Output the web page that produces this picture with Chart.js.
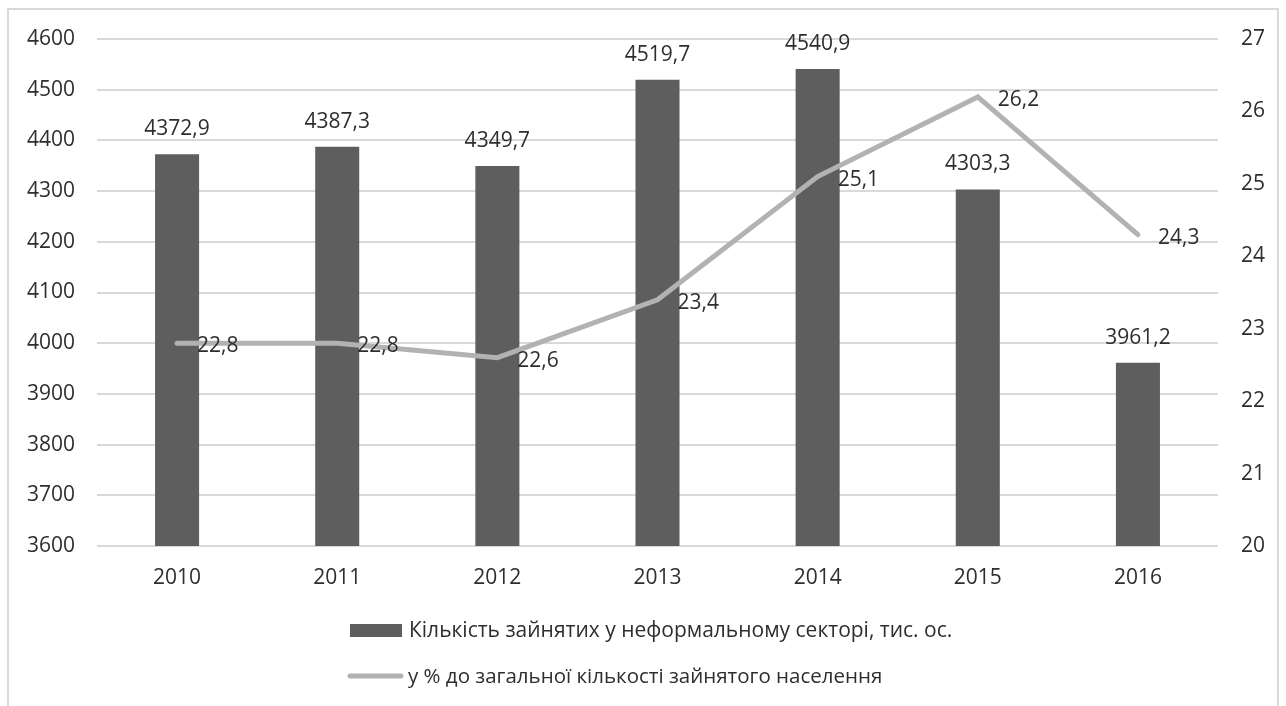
<!DOCTYPE html>
<html>
<head>
<meta charset="utf-8">
<script src="https://cdn.jsdelivr.net/npm/chart.js@4"></script>
<style>
  html, body { margin: 0; padding: 0; background: #fff; overflow: hidden; }
  #wrap { position: relative; width: 1286px; height: 706px; }
  #frame {
    position: absolute; left: 7px; top: 8px; width: 1272px; height: 720px;
    border: 2px solid #d9d9d9; box-sizing: border-box; pointer-events: none;
  }
  canvas { position: absolute; left: 0; top: 0; }
</style>
</head>
<body>
<div id="wrap">
  <canvas id="chart" width="1286" height="706"></canvas>
  <div id="frame"></div>
</div>
<script>
// зайнятість у неформальному секторі
const years = ["2010", "2011", "2012", "2013", "2014", "2015", "2016"];
const informalEmployed = [4372.9, 4387.3, 4349.7, 4519.7, 4540.9, 4303.3, 3961.2];
const shareOfEmployed = [22.8, 22.8, 22.6, 23.4, 25.1, 26.2, 24.3];

const barLabel = "Кількість зайнятих у неформальному секторі, тис. ос.";
const lineLabel = "у % до загальної кількості зайнятого населення";

const FONT = "'Open Sans', sans-serif";
const TEXT = "#2e2e2e";
const NUM_SIZE = 21;
const fmt = v => v.toFixed(1).replace(".", ",");

// value labels: above bars, right of line points
const valueLabels = {
  id: "valueLabels",
  afterDatasetsDraw(chart) {
    const ctx = chart.ctx;
    ctx.save();
    ctx.font = NUM_SIZE + "px " + FONT;
    ctx.fillStyle = TEXT;
    ctx.textBaseline = "middle";
    chart.data.datasets.forEach((ds, i) => {
      const meta = chart.getDatasetMeta(i);
      meta.data.forEach((el, j) => {
        const txt = fmt(ds.data[j]);
        if (ds.type === "bar") {
          ctx.textAlign = "center";
          ctx.fillText(txt, el.x, el.y - 25);
        } else {
          ctx.textAlign = "left";
          ctx.fillText(txt, el.x + 20, el.y + 3);
        }
      });
    });
    ctx.restore();
  }
};

// two-row legend under the axis
const stackedLegend = {
  id: "stackedLegend",
  afterDraw(chart) {
    const ctx = chart.ctx;
    const line = chart.data.datasets[0];
    const bar = chart.data.datasets[1];
    ctx.save();
    ctx.textBaseline = "middle";
    ctx.textAlign = "left";

    ctx.fillStyle = bar.backgroundColor;
    ctx.fillRect(350, 624, 52, 13);
    ctx.fillStyle = TEXT;
    ctx.font = "21px " + FONT;
    ctx.fillText(bar.label, 409, 631);

    ctx.strokeStyle = line.borderColor;
    ctx.lineWidth = 5;
    ctx.lineCap = "round";
    ctx.beginPath();
    ctx.moveTo(350, 676);
    ctx.lineTo(401, 676);
    ctx.stroke();
    ctx.font = "20.5px " + FONT;
    ctx.fillText(line.label, 408, 677);
    ctx.restore();
  }
};

const tickFont = { family: FONT, size: NUM_SIZE };

new Chart(document.getElementById("chart"), {
  data: {
    labels: years,
    datasets: [
      {
        type: "line",
        label: lineLabel,
        data: shareOfEmployed,
        yAxisID: "y1",
        borderColor: "#b2b2b2",
        borderWidth: 5,
        borderJoinStyle: "miter",
        borderCapStyle: "round",
        pointRadius: 0,
        tension: 0,
        order: 0
      },
      {
        type: "bar",
        label: barLabel,
        data: informalEmployed,
        yAxisID: "y",
        backgroundColor: "#5e5e5e",
        barPercentage: 0.55,
        categoryPercentage: 0.5,
        order: 1
      }
    ]
  },
  options: {
    responsive: false,
    animation: false,
    layout: { padding: { top: 39, bottom: 100, left: 0, right: 0 } },
    plugins: {
      legend: { display: false },
      tooltip: { enabled: false }
    },
    scales: {
      x: {
        grid: { display: false, drawTicks: false },
        border: { display: false },
        ticks: { color: TEXT, font: tickFont, padding: 19 },
        afterFit(s) { s.height = 60; }
      },
      y: {
        position: "left",
        min: 3600,
        max: 4600,
        grid: { color: "#d9d9d9", lineWidth: 2, drawTicks: false },
        border: { display: false },
        ticks: { stepSize: 100, color: TEXT, font: tickFont, padding: 22, callback: v => String(v) },
        afterFit(s) { s.width = 97; }
      },
      y1: {
        position: "right",
        min: 20,
        max: 27,
        grid: { display: false, drawTicks: false },
        border: { display: false },
        ticks: { stepSize: 1, color: TEXT, font: tickFont, padding: 23, callback: v => String(v) },
        afterFit(s) { s.width = 68; }
      }
    }
  },
  plugins: [valueLabels, stackedLegend]
});
</script>
</body>
</html>
